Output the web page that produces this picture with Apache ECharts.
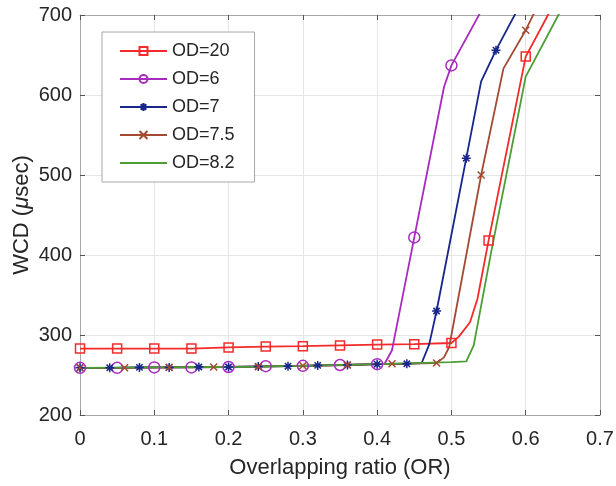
<!DOCTYPE html>
<html>
<head>
<meta charset="utf-8">
<script src="https://cdn.jsdelivr.net/npm/echarts@6/dist/echarts.min.js"></script>
<style>
  html, body { margin: 0; padding: 0; background: #fff; }
  #chart { width: 616px; height: 486px; }
</style>
</head>
<body>
<div id="chart"></div>
<script>
// series names
var names = ["OD=20", "OD=6", "OD=7", "OD=7.5", "OD=8.2"];

// OD=20 (markers every 0.05)
var od20X = [0, 0.05, 0.1, 0.15, 0.2, 0.25, 0.3, 0.35, 0.4, 0.45, 0.5, 0.51, 0.525, 0.535, 0.55, 0.6, 0.63, 0.65];
var od20Y = [283, 283, 283, 283, 284.5, 285.5, 286, 287, 288, 288.5, 290, 298, 316, 345, 418, 648, 700, 734];

// OD=6 (markers every 0.05)
var od6X = [0, 0.05, 0.1, 0.15, 0.2, 0.25, 0.3, 0.35, 0.4, 0.41, 0.42, 0.45, 0.49, 0.5, 0.54];
var od6Y = [259, 259, 259.5, 259.5, 260, 261, 261.5, 262.5, 263.5, 264, 281, 422, 610, 637, 705];

// OD=7 (markers every 0.04)
var od7X = [0, 0.04, 0.08, 0.12, 0.16, 0.2, 0.24, 0.28, 0.32, 0.36, 0.4, 0.44, 0.46, 0.47, 0.48, 0.52, 0.54, 0.56, 0.6];
var od7Y = [259, 259, 259.5, 259.5, 260, 260, 260.5, 261, 262, 262.5, 263.5, 264, 265, 288, 330, 521, 617, 656, 726];

// OD=7.5 (markers every 0.06)
var od75X = [0, 0.06, 0.12, 0.18, 0.24, 0.3, 0.36, 0.42, 0.48, 0.49, 0.497, 0.523, 0.54, 0.57, 0.6, 0.62];
var od75Y = [259, 259, 259.5, 260, 260.5, 261.5, 262.5, 264, 265, 272, 285, 415, 500, 633, 681, 719];

// OD=8.2 (no markers)
var od82X = [0, 0.1, 0.2, 0.3, 0.4, 0.5, 0.52, 0.53, 0.554, 0.6, 0.644, 0.66];
var od82Y = [259, 259.5, 260, 261.5, 263.5, 266, 267, 287, 406, 623, 700, 728];

var colors = ["#f52a2a", "#a82bc0", "#18268c", "#a34a33", "#4b9e36"];
var axisGray = "#a8a8a8";
var textColor = "#262626";
var font = "Liberation Sans, Arial, sans-serif";

// keep a marker only where x falls on the marker step
function buildData(xs, ys, step) {
  return xs.map(function (x, i) {
    if (step) {
      var k = x / step;
      if (Math.abs(k - Math.round(k)) < 1e-6) return [x, ys[i]];
    }
    return { value: [x, ys[i]], symbol: "none" };
  });
}

var starPath = "path://M0,5L10,5M5,0L5,10M1.5,1.5L8.5,8.5M8.5,1.5L1.5,8.5";
var crossPath = "path://M0,0L10,10M10,0L0,10";

function makeSeries(idx, xs, ys, step, symbol, size) {
  var c = colors[idx];
  var markColor = symbol === "none" ? "rgba(0,0,0,0)" : c;
  return {
    name: names[idx],
    type: "line",
    data: buildData(xs, ys, step),
    symbol: symbol,
    symbolSize: size,
    showAllSymbol: true,
    clip: true,
    lineStyle: { color: c, width: 1.8 },
    itemStyle: { color: "rgba(0,0,0,0)", borderColor: markColor, borderWidth: 1.5 },
    emphasis: { disabled: true }
  };
}

var chart = echarts.init(document.getElementById("chart"));
chart.setOption({
  animation: false,
  color: colors,
  grid: { left: 80, right: 16, top: 15, bottom: 71, outerBoundsMode: "none" },
  legend: {
    orient: "vertical",
    left: 102,
    top: 32,
    padding: [10, 20, 10, 17],
    itemWidth: 47,
    itemHeight: 10,
    itemGap: 10,
    backgroundColor: "#fff",
    borderColor: "#a8a8a8",
    borderWidth: 1,
    textStyle: { fontFamily: font, fontSize: 18, color: textColor },
    data: names
  },
  xAxis: [
    {
      type: "value",
      min: 0,
      max: 0.7,
      interval: 0.1,
      name: "Overlapping ratio (OR)",
      nameLocation: "middle",
      nameGap: 42,
      nameMoveOverlap: false,
      nameTextStyle: { fontFamily: font, fontSize: 22, color: textColor },
      axisLine: { show: true, onZero: false, lineStyle: { color: axisGray } },
      axisTick: { show: true, inside: true, length: 5, lineStyle: { color: "#555" } },
      axisLabel: { fontFamily: font, fontSize: 20, color: textColor, margin: 14 },
      splitLine: { show: true, lineStyle: { color: "#e6e6e6" } }
    },
    {
      type: "value",
      position: "top",
      min: 0,
      max: 0.7,
      interval: 0.1,
      axisLine: { show: true, onZero: false, lineStyle: { color: axisGray } },
      axisTick: { show: true, inside: true, length: 5, lineStyle: { color: "#555" } },
      axisLabel: { show: false },
      splitLine: { show: false }
    }
  ],
  yAxis: [
    {
      type: "value",
      min: 200,
      max: 700,
      interval: 100,
      name: "{a|WCD (}{m|μ}{a|sec)}",
      nameLocation: "middle",
      nameGap: 47,
      nameMoveOverlap: false,
      nameTextStyle: {
        rich: {
          a: { fontFamily: font, fontSize: 22, color: textColor },
          m: { fontFamily: font, fontSize: 22, color: textColor, fontStyle: "italic" }
        }
      },
      axisLine: { show: true, onZero: false, lineStyle: { color: axisGray } },
      axisTick: { show: true, inside: true, length: 5, lineStyle: { color: "#555" } },
      axisLabel: { fontFamily: font, fontSize: 20, color: textColor, margin: 8 },
      splitLine: { show: true, lineStyle: { color: "#e6e6e6" } }
    },
    {
      type: "value",
      position: "right",
      min: 200,
      max: 700,
      interval: 100,
      axisLine: { show: true, onZero: false, lineStyle: { color: axisGray } },
      axisTick: { show: true, inside: true, length: 5, lineStyle: { color: "#555" } },
      axisLabel: { show: false },
      splitLine: { show: false }
    }
  ],
  series: [
    makeSeries(0, od20X, od20Y, 0.05, "rect", 9),
    makeSeries(1, od6X, od6Y, 0.05, "circle", 11),
    makeSeries(2, od7X, od7Y, 0.04, starPath, 9),
    makeSeries(3, od75X, od75Y, 0.06, crossPath, 7),
    makeSeries(4, od82X, od82Y, 0, "none", 0)
  ]
});
</script>
</body>
</html>
